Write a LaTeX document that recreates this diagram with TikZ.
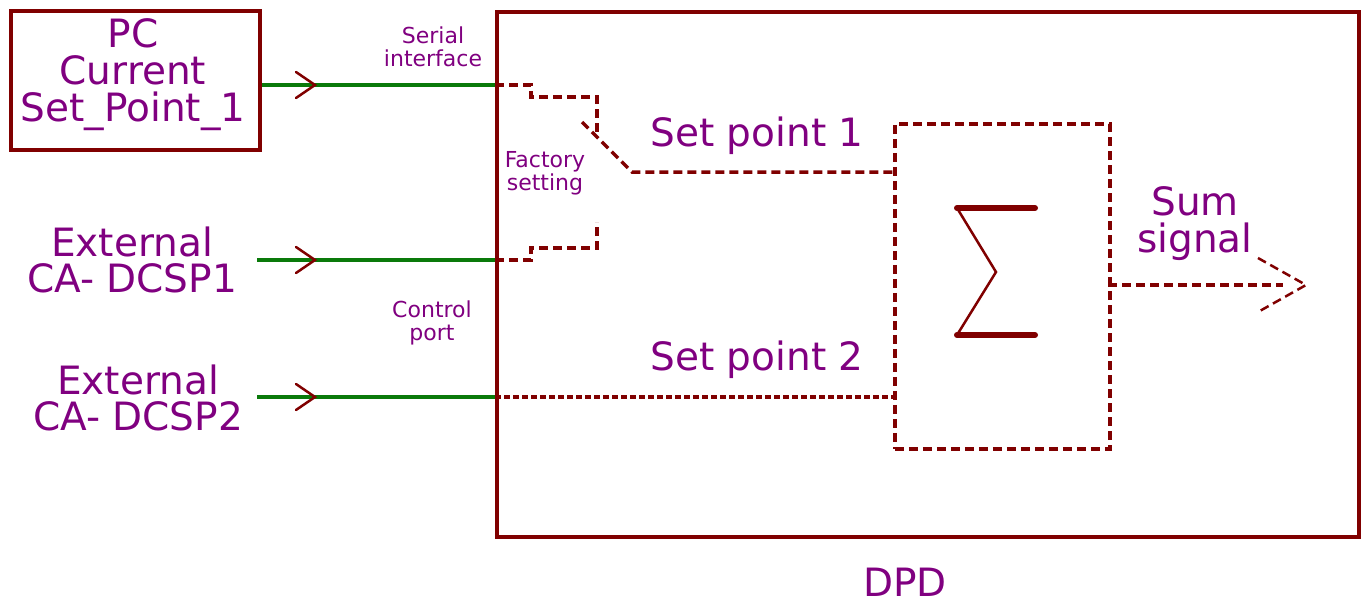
\documentclass[tikz,border=0pt]{standalone}
\usepackage{fontspec}
\setmainfont{DejaVu Sans}
\definecolor{dred}{HTML}{800000}
\definecolor{dgreen}{HTML}{0A7A0A}
\definecolor{purp}{HTML}{800080}
\begin{document}
\begin{tikzpicture}[x=1pt,y=-1pt,
  bigtxt/.style={text=purp,font=\fontsize{39}{37}\selectfont,align=center,inner sep=0pt},
  smalltxt/.style={text=purp,font=\fontsize{22}{23}\selectfont,align=center,inner sep=0pt},
  frame/.style={draw=dred,line width=4pt},
  wire/.style={draw=dgreen,line width=3.5pt},
  chev/.style={draw=dred,line width=2.5pt,line cap=round},
  dline/.style={draw=dred,line width=3.5pt,dash pattern=on 9pt off 5pt},
  dotline/.style={draw=dred,line width=3.5pt,dash pattern=on 6pt off 3pt}]
\useasboundingbox (0,0) rectangle (1364,605);
% boxes
\node[frame,minimum width=249pt,minimum height=139pt,anchor=north west,inner sep=0pt] (pc) at (9,9) {};
\node[bigtxt] (pctxt) at (133,75) {PC\\Current\\Set\_Point\_1};
\node[frame,minimum width=862pt,minimum height=525pt,anchor=north west,inner sep=0pt] (dpd) at (495,10) {};
\node[dline,minimum width=215pt,minimum height=325pt,anchor=north west,inner sep=0pt] (sig) at (893,122) {};
% coordinates
\coordinate (in1) at (495,85);
\coordinate (in2) at (495,260);
\coordinate (in3) at (495,397);
\coordinate (s1) at (893,172);
\coordinate (s2) at (893,397);
\coordinate (outA) at (1108,285);
\coordinate (outB) at (1306,285);
% green input wires
\draw[wire] (pc.east |- in1) -- (in1);
\node[bigtxt,font=\fontsize{39}{36}\selectfont] (ext1) at (132,260) {External\\CA- DCSP1};
\node[bigtxt,font=\fontsize{39}{36}\selectfont] (ext2) at (138,398) {External\\CA- DCSP2};
\coordinate (w2) at (257,260);
\coordinate (w3) at (257,397);
\draw[wire] (w2) -- (in2);
\draw[wire,line width=4.5pt] (w3) -- (in3);
% chevrons
\foreach \yy in {85,260,397}{
  \draw[chev] (296,\yy-13) -- (315,\yy) -- (296,\yy+13);
}
% switch
\draw[dline] (in1) -- (531,85) -- (531,97) -- (597,97) -- (597,135);
\draw[dline] (in2) -- (531,260) -- (531,248) -- (597,248) -- (597,222);
\draw[dline] (582,122) -- (632,172) -- (s1);
\draw[dotline] (in3) -- (s2);
% sigma
\draw[dred,line width=6pt,line cap=round] (957,208) -- (1035,208);
\draw[dred,line width=6pt,line cap=round] (957,335) -- (1035,335);
\draw[dred,line width=2.5pt] (957,208) -- (996,272) -- (957,335);
% output
\draw[dline] (outA) -- (1283,285);
\draw[dline,line width=2.5pt] (1258,258) -- (outB) -- (1258,312);
% labels
\node[smalltxt] (serial) at (433,47) {Serial\\interface};
\node[smalltxt] (fact) at (545,173) {Factory\\setting};
\node[smalltxt] (ctrl) at (432,323) {Control\\port};
\node[bigtxt] (sp1) at (757,136) {Set point 1};
\node[bigtxt] (sp2) at (757,360) {Set point 2};
\node[bigtxt] (sum) at (1195,224) {Sum\\signal};
\node[bigtxt] (dpdlbl) at (905,582) {DPD};
\end{tikzpicture}
\end{document}
